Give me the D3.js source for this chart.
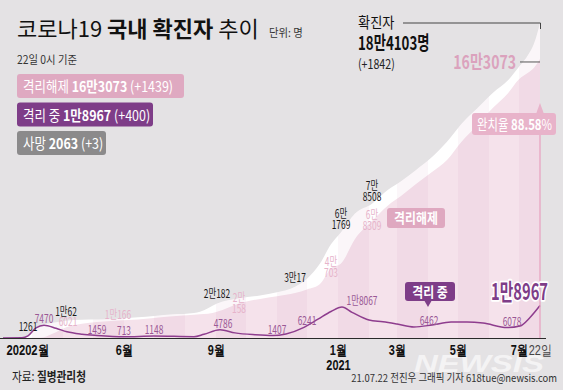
<!DOCTYPE html>
<html>
<head>
<meta charset="utf-8">
<script src="https://cdn.jsdelivr.net/npm/d3@7"></script>
<style>
  body { margin: 0; background: #e4e2e4; }
  svg { display: block; font-family: "Noto Sans CJK KR", "Noto Sans", sans-serif; }
</style>
</head>
<body>
<div id="chart"></div>
<script>
// cumulative confirmed / released share the same dates
const seriesDates = [
  "2020-02-01", "2020-02-18", "2020-02-26", "2020-03-05", "2020-03-13", "2020-03-22",
  "2020-04-03", "2020-04-20", "2020-05-05", "2020-05-26", "2020-06-15", "2020-07-01",
  "2020-07-20", "2020-08-10", "2020-08-16", "2020-08-24", "2020-09-02", "2020-09-24",
  "2020-10-15", "2020-11-01", "2020-11-19", "2020-12-01", "2020-12-14", "2020-12-25",
  "2021-01-04", "2021-01-18", "2021-02-04", "2021-02-20", "2021-03-05", "2021-03-20",
  "2021-04-05", "2021-04-20", "2021-05-05", "2021-05-20", "2021-06-05", "2021-06-20",
  "2021-07-01", "2021-07-10", "2021-07-16", "2021-07-22"
];
const confirmedValues = [
  12, 31, 1261, 6088, 7979, 8897,
  10062, 10674, 10806, 11225, 12121, 12850,
  13816, 14660, 15318, 17399, 20182, 23216,
  24889, 26732, 30017, 34652, 43484, 54770,
  61769, 72729, 78508, 86592, 91638, 98209,
  105752, 114646, 125519, 134117, 143385, 150676,
  158549, 165344, 172050, 184103
];
const releasedValues = [
  0, 10, 22, 88, 510, 2612,
  6021, 8277, 9283, 10166, 10760, 11684,
  12700, 13642, 13863, 14188, 15356, 20158,
  22863, 24395, 26325, 28352, 31500, 40703,
  43500, 57800, 68309, 77500, 83000, 90000,
  97000, 104000, 115000, 124000, 134500, 143000,
  151228, 155030, 158000, 163073
];

// currently isolated
const isolatedDates = [
  "2020-02-01", "2020-02-20", "2020-02-26", "2020-03-05", "2020-03-13", "2020-03-25",
  "2020-04-05", "2020-04-20", "2020-05-05", "2020-06-01", "2020-07-01", "2020-08-10",
  "2020-08-20", "2020-09-05", "2020-09-20", "2020-10-10", "2020-10-28", "2020-11-10",
  "2020-11-28", "2020-12-12", "2020-12-25", "2021-01-05", "2021-01-15", "2021-02-01",
  "2021-02-15", "2021-03-01", "2021-03-18", "2021-04-05", "2021-04-24", "2021-05-10",
  "2021-05-26", "2021-06-19", "2021-07-02", "2021-07-12", "2021-07-22"
];
const isolatedValues = [
  10, 100, 1227, 5900, 7470, 5700,
  3600, 2200, 1459, 713, 1148, 800,
  2200, 4786, 3000, 1900, 1407, 2400,
  6241, 11000, 15500, 18067, 15000, 10500,
  9500, 8200, 6462, 7600, 9300, 9300,
  8700, 6078, 7000, 12000, 18967
];

// point labels
const confirmedLabels = [
  { date: "2020-02-26", value: 1261, text: ["1261"] },
  { date: "2020-04-04", value: 10062, text: ["1만62"] },
  { date: "2020-09-02", value: 20182, text: ["2만182"] },
  { date: "2020-11-19", value: 30017, text: ["3만17"] },
  { date: "2021-01-04", value: 61769, text: ["6만", "1769"] },
  { date: "2021-02-04", value: 78508, text: ["7만", "8508"] }
];
const releasedLabels = [
  { date: "2020-04-06", value: 6021, text: ["6021"] },
  { date: "2020-05-26", value: 10166, text: ["1만166"] },
  { date: "2020-09-24", value: 20158, text: ["2만", "158"] },
  { date: "2020-12-25", value: 40703, text: ["4만", "703"] },
  { date: "2021-02-04", value: 68309, text: ["6만", "8309"] }
];
const isolatedLabels = [
  { date: "2020-03-13", value: 7470, text: "7470" },
  { date: "2020-05-05", value: 1459, text: "1459" },
  { date: "2020-06-01", value: 713, text: "713" },
  { date: "2020-07-01", value: 1148, text: "1148" },
  { date: "2020-09-08", value: 4786, text: "4786" },
  { date: "2020-11-01", value: 1407, text: "1407" },
  { date: "2020-12-01", value: 6241, text: "6241" },
  { date: "2021-01-25", value: 18067, text: "1만8067" },
  { date: "2021-04-02", value: 6462, text: "6462" },
  { date: "2021-06-24", value: 6078, text: "6078" }
];

const tickDates = ["2020-02-01", "2020-06-01", "2020-09-01", "2021-01-01", "2021-03-01", "2021-05-01", "2021-07-01", "2021-07-22"];
const tickLabels = ["2월", "6월", "9월", "1월", "3월", "5월", "7월", "22일"];

(function () {
  const width = 563, height = 390;
  const baseY = 338;
  const parse = d3.timeParse("%Y-%m-%d");
  const Pink = "#f5e2eb";
  const Purple = "#7e3d88";

  const confirmed = seriesDates.map((d, i) => ({ date: parse(d), value: confirmedValues[i] }));
  const released = seriesDates.map((d, i) => ({ date: parse(d), value: releasedValues[i] }));
  const isolated = isolatedDates.map((d, i) => ({ date: parse(d), value: isolatedValues[i] }));
  const endDate = parse(seriesDates[seriesDates.length - 1]);

  const x = d3.scaleTime()
    .domain([parse(seriesDates[0]), endDate])
    .range([3, 540]);
  const y = d3.scaleLinear()
    .domain([0, d3.max(confirmedValues)])
    .range([baseY, 23]);

  const svg = d3.select("#chart").append("svg")
    .attr("width", width)
    .attr("height", height);

  svg.append("rect").attr("width", width).attr("height", height).attr("fill", "#e4e2e4");

  // text with horizontal squeeze (narrow font look)
  function rich(parent, px, py, parts, o) {
    const t = parent.append("text")
      .attr("transform", `translate(${px},${py}) scale(${o.sx || 1},1)`)
      .attr("font-size", o.size)
      .attr("fill", o.fill)
      .attr("text-anchor", o.anchor || "start");
    parts.forEach((p) => {
      t.append("tspan")
        .attr("font-weight", p.bold ? 700 : 400)
        .attr("fill", p.fill || null)
        .attr("font-size", p.size || null)
        .text(p.t);
    });
    return t;
  }
  function lines(parent, px, py, rows, o) {
    const t = parent.append("text")
      .attr("transform", `translate(${px},${py}) scale(${o.sx},1)`)
      .attr("font-size", o.size)
      .attr("fill", o.fill)
      .attr("text-anchor", "middle");
    rows.forEach((r, i) => {
      t.append("tspan").attr("x", 0).attr("y", i * o.lh).text(r);
    });
    return t;
  }

  // areas
  const area = d3.area()
    .x((d) => x(d.date))
    .y0(baseY)
    .y1((d) => y(d.value))
    .curve(d3.curveMonotoneX);

  svg.append("clipPath").attr("id", "conf-clip")
    .append("path").datum(confirmed).attr("d", area);

  svg.append("path").datum(confirmed).attr("fill", "#ffffff").attr("d", area);
  svg.append("path").datum(released).attr("fill", Pink).attr("d", area);

  // monthly stripes
  const months = d3.timeMonth.range(parse("2020-02-01"), endDate);
  svg.append("g").attr("clip-path", "url(#conf-clip)")
    .selectAll("rect")
    .data(months.filter((m, i) => i % 2 === 1))
    .join("rect")
    .attr("x", (d) => x(d))
    .attr("width", (d) => Math.min(x(d3.timeMonth.offset(d, 1)), x(endDate)) - x(d))
    .attr("y", 0)
    .attr("height", baseY)
    .attr("fill", "#b86d95")
    .attr("opacity", 0.06);

  // isolated line
  const line = d3.line()
    .x((d) => x(d.date))
    .y((d) => y(d.value))
    .curve(d3.curveMonotoneX);
  svg.append("path").datum(isolated)
    .attr("fill", "none")
    .attr("stroke", "#8e3d8e")
    .attr("stroke-width", 1.5)
    .attr("d", line);

  // end marker line
  svg.append("line")
    .attr("x1", x(endDate)).attr("x2", x(endDate))
    .attr("y1", 135).attr("y2", baseY)
    .attr("stroke", "#e8a0bf").attr("stroke-width", 1.2);

  // watermark (behind the axis labels)
  svg.append("text")
    .attr("x", 414).attr("y", 372)
    .attr("font-family", "'Liberation Sans', Arial, sans-serif")
    .attr("font-size", 24).attr("font-weight", 700).attr("font-style", "italic")
    .attr("fill", "#ffffff").attr("opacity", 0.6)
    .attr("textLength", 130)
    .attr("lengthAdjust", "spacingAndGlyphs")
    .text("NEWSIS");

  // x axis
  const xAxis = d3.axisBottom(x)
    .tickValues(tickDates.map(parse))
    .tickSize(0)
    .tickFormat((d, i) => tickLabels[i]);
  const ax = svg.append("g").attr("transform", `translate(0,${baseY})`).call(xAxis);
  ax.select(".domain").remove();
  ax.selectAll("text")
    .attr("y", 0).attr("dy", 0)
    .attr("transform", "translate(0,17) scale(0.78,1)")
    .attr("font-family", null)
    .attr("font-size", 14)
    .attr("font-weight", 700)
    .attr("fill", "#111");
  ax.selectAll(".tick").filter((d, i) => i === 0).select("text")
    .attr("text-anchor", "start")
    .attr("transform", "translate(3,17) scale(0.8,1)")
    .text("20202월");
  ax.selectAll(".tick").filter((d, i) => i === tickDates.length - 1).select("text")
    .attr("font-weight", 400).attr("fill", "#444");
  ax.selectAll(".tick").filter((d, i) => i === 3).append("text")
    .attr("transform", "translate(0,32) scale(0.78,1)")
    .attr("text-anchor", "middle")
    .attr("font-size", 14).attr("font-weight", 700).attr("fill", "#111")
    .text("2021");

  svg.append("line")
    .attr("x1", 0).attr("x2", 546)
    .attr("y1", baseY + 0.5).attr("y2", baseY + 0.5)
    .attr("stroke", "#2a2a2a").attr("stroke-width", 1.2);

  // point labels
  const lab = svg.append("g");
  confirmedLabels.forEach((d) => {
    const n = d.text.length;
    const lift = n > 1 ? 3 : 5;
    lines(lab, x(parse(d.date)), y(d.value) - lift - (n - 1) * 11, d.text,
      { size: 12, fill: "#1a1a1a", sx: 0.7, lh: 11 });
  });
  releasedLabels.forEach((d) => {
    lines(lab, x(parse(d.date)), y(d.value) - 2, d.text,
      { size: 12, fill: "#e6b3ca", sx: 0.7, lh: 11 });
  });
  isolatedLabels.forEach((d) => {
    lines(lab, x(parse(d.date)), y(d.value) - 2, [d.text],
      { size: 12, fill: "#9a5895", sx: 0.7, lh: 11 });
  });

  // title
  rich(svg, 17, 37, [
    { t: "코로나19 " }, { t: "국내 확진자", bold: true }, { t: " 추이" }
  ], { size: 22, fill: "#111", sx: 1 });
  rich(svg, 269, 37, [{ t: "단위: 명" }], { size: 11.5, fill: "#333", sx: 0.9 });
  rich(svg, 17, 64, [{ t: "22일 0시 기준" }], { size: 11.5, fill: "#333", sx: 0.9 });

  // legend boxes
  const legend = [
    { fill: "#dfa9c1", w: 167, parts: [{ t: "격리해제 " }, { t: "16만3073", bold: true }, { t: " (+1439)" }] },
    { fill: Purple, w: 136, parts: [{ t: "격리 중 " }, { t: "1만8967", bold: true }, { t: " (+400)" }] },
    { fill: "#8b8a8b", w: 89, parts: [{ t: "사망 " }, { t: "2063", bold: true }, { t: " (+3)" }] }
  ];
  legend.forEach((d, i) => {
    const top = 74 + i * 28.5;
    svg.append("rect")
      .attr("x", 17).attr("y", top).attr("width", d.w).attr("height", 24)
      .attr("rx", 3).attr("fill", d.fill);
    rich(svg, 23, top + 18, d.parts, { size: 14.5, fill: "#fff", sx: 0.86 });
  });

  // top-right totals
  const yConf = y(d3.max(confirmedValues));
  const yRel = y(releasedValues[releasedValues.length - 1]);
  const xEnd = x(endDate);
  rich(svg, 358, 28, [{ t: "확진자" }], { size: 15, fill: "#111", sx: 0.88 });
  svg.append("path")
    .attr("d", `M403,${yConf}H${xEnd + 0.5}V${yConf + 6}`)
    .attr("fill", "none").attr("stroke", "#444").attr("stroke-width", 1);
  rich(svg, 358, 50, [{ t: "18만4103명", bold: true }], { size: 19, fill: "#111", sx: 0.7 });
  rich(svg, 358, 69, [{ t: "(+1842)" }], { size: 13, fill: "#222", sx: 0.82 });

  rich(svg, 516, yRel + 10, [{ t: "16만3073", bold: true }], { size: 19, fill: "#dba2bd", sx: 0.74, anchor: "end" });
  svg.append("line")
    .attr("x1", 520).attr("x2", xEnd).attr("y1", yRel + 3).attr("y2", yRel + 3)
    .attr("stroke", "#555").attr("stroke-width", 1);

  // recovery-rate callout
  svg.append("path")
    .attr("d", `M${xEnd - 4},114L${xEnd},103L${xEnd + 4},114Z`)
    .attr("fill", "#e8b3ca");
  svg.append("rect")
    .attr("x", 472).attr("y", 113).attr("width", 84).attr("height", 22)
    .attr("rx", 3).attr("fill", "#e8b3ca");
  rich(svg, 477, 130, [{ t: "완치율 " }, { t: "88.58", bold: true }, { t: "%" }],
    { size: 15, fill: "#fff", sx: 0.76 });

  // series tags
  svg.append("rect")
    .attr("x", 387).attr("y", 208).attr("width", 58).attr("height", 20)
    .attr("rx", 3).attr("fill", "#dfa8c0");
  rich(svg, 416, 223, [{ t: "격리해제", bold: true }], { size: 14, fill: "#fff", sx: 0.85, anchor: "middle" });

  svg.append("path")
    .attr("d", "M424,300L428,307L432,300Z")
    .attr("fill", Purple);
  svg.append("rect")
    .attr("x", 405).attr("y", 282).attr("width", 50).attr("height", 19)
    .attr("rx", 3).attr("fill", Purple);
  rich(svg, 430, 297, [{ t: "격리 중", bold: true }], { size: 14, fill: "#fff", sx: 0.85, anchor: "middle" });

  rich(svg, 548, y(isolatedValues[isolatedValues.length - 1]) - 6, [{ t: "1만8967", bold: true }],
    { size: 23, fill: Purple, sx: 0.64, anchor: "end" })
    .attr("stroke", "#fff").attr("stroke-width", 3.5)
    .attr("paint-order", "stroke").attr("stroke-linejoin", "round");

  // footer
  rich(svg, 12, 381, [{ t: "자료: " }, { t: "질병관리청", bold: true }], { size: 13, fill: "#222", sx: 0.82 });
  rich(svg, 557, 382, [{ t: "21.07.22 전진우 그래픽 기자 618tue@newsis.com" }],
    { size: 11, fill: "#333", sx: 0.86, anchor: "end" });
})();
</script>
</body>
</html>
